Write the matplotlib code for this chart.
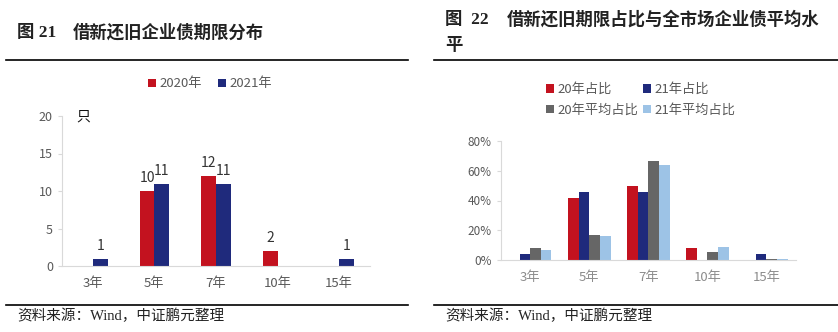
import matplotlib
matplotlib.use("Agg")
import matplotlib.pyplot as plt
import numpy as np
from matplotlib.lines import Line2D

plt.rcParams['font.family'] = ['Noto Sans CJK SC', 'DejaVu Sans']
SERIF = ['Liberation Serif', 'Noto Sans CJK SC']

categories = ["3年", "5年", "7年", "10年", "15年"]
count_2020 = [0, 10, 12, 2, 0]
count_2021 = [1, 11, 11, 0, 1]

share_20 = [0.0, 41.7, 50.0, 8.3, 0.0]
share_21 = [4.2, 45.8, 45.8, 0.0, 4.2]
avg_20 = [7.8, 16.8, 66.3, 5.6, 0.7]
avg_21 = [6.5, 16.4, 63.6, 8.5, 0.5]

RED = "#C3121F"
NAVY = "#1F2A7C"
GRAY = "#666666"
LBLUE = "#9DC3E6"
TICK = "#595959"
AXC = "#D9D9D9"

W, H = 838, 332
fig = plt.figure(figsize=(W / 100, H / 100), dpi=100)

def fx(px):
    return px / W

def fy(py):
    return 1 - py / H

def hline(x0, x1, y):
    fig.add_artist(Line2D([fx(x0), fx(x1)], [fy(y), fy(y)], color="black", lw=1.2))

TS = 12.5
# Titles
fig.text(fx(17), fy(33), "图 21", fontsize=TS, fontweight="bold", va="center", ha="left", color="#222222", family=SERIF)
fig.text(fx(73), fy(33), "借新还旧企业债期限分布", fontsize=TS, fontweight="bold", va="center", ha="left", color="#222222")
fig.text(fx(445), fy(20), "图  22", fontsize=TS, fontweight="bold", va="center", ha="left", color="#222222", family=SERIF)
fig.text(fx(507), fy(20), "借新还旧期限占比与全市场企业债平均水", fontsize=TS, fontweight="bold", va="center", ha="left", color="#222222")
fig.text(fx(445), fy(45), "平", fontsize=TS, fontweight="bold", va="center", ha="left", color="#222222")

hline(6, 408, 60)
hline(434, 838, 60)
hline(6, 408, 305)
hline(434, 838, 305)

fig.text(fx(17), fy(316), "资料来源：Wind，中证鹏元整理", fontsize=10.5, va="center", ha="left", color="#222222", family=SERIF)
fig.text(fx(445), fy(316), "资料来源：Wind，中证鹏元整理", fontsize=10.5, va="center", ha="left", color="#222222", family=SERIF)

def style_axes(ax, labelcolor):
    for s in ["top", "right"]:
        ax.spines[s].set_visible(False)
    ax.spines["left"].set_color(AXC)
    ax.spines["bottom"].set_color(AXC)
    ax.tick_params(axis="y", colors=AXC, labelcolor=TICK, length=3, labelsize=9)
    ax.tick_params(axis="x", length=0, labelcolor=labelcolor, labelsize=9.5, pad=8)

# Left chart
ax1 = fig.add_axes([fx(62), fy(266), fx(370) - fx(62), fy(116) - fy(266)])
x = np.arange(len(categories))
bw = 0.24
b1 = ax1.bar(x - bw / 2, count_2020, bw, color=RED, label="2020年")
b2 = ax1.bar(x + bw / 2, count_2021, bw, color=NAVY, label="2021年")
ax1.set_xlim(-0.5, len(categories) - 0.5)
ax1.set_ylim(0, 20)
ax1.set_yticks([0, 5, 10, 15, 20])
ax1.set_xticks(x)
ax1.set_xticklabels(categories)
style_axes(ax1, TICK)
for bars, vals in ((b1, count_2020), (b2, count_2021)):
    for r, v in zip(bars, vals):
        if v:
            ax1.annotate(str(v), (r.get_x() + r.get_width() / 2, v), xytext=(0, 4),
                         textcoords="offset points", ha="center", va="bottom",
                         fontsize=10, color="#333333")
fig.text(fx(83), fy(117), "只", fontsize=10, ha="center", va="center", color="#111111")
fig.legend(handles=[b1, b2], loc="center", bbox_to_anchor=(fx(210), fy(84)), ncol=2,
           frameon=False, fontsize=9.5, handlelength=0.6, handleheight=0.6,
           handletextpad=0.3, columnspacing=1.2, labelcolor=TICK)

# Right chart
ax2 = fig.add_axes([fx(500.7), fy(260), fx(796) - fx(500.7), fy(141) - fy(260)])
bw2 = 0.18
offs = [-1.5, -0.5, 0.5, 1.5]
series = [(share_20, RED, "20年占比"), (share_21, NAVY, "21年占比"),
          (avg_20, GRAY, "20年平均占比"), (avg_21, LBLUE, "21年平均占比")]
handles = []
for (vals, c, lab), o in zip(series, offs):
    h = ax2.bar(x + o * bw2, vals, bw2, color=c, label=lab)
    handles.append(h)
ax2.set_xlim(-0.5, len(categories) - 0.5)
ax2.set_ylim(0, 80)
ax2.set_yticks([0, 20, 40, 60, 80])
ax2.set_yticklabels(["0%", "20%", "40%", "60%", "80%"])
ax2.set_xticks(x)
ax2.set_xticklabels(categories)
style_axes(ax2, "#8C8C8C")
ax2.tick_params(axis="y", labelsize=8.5)
fig.legend(handles=[handles[0], handles[2], handles[1], handles[3]],
           loc="center left", bbox_to_anchor=(fx(534), fy(100)), ncol=2,
           frameon=False, fontsize=9.5, handlelength=0.6, handleheight=0.6,
           handletextpad=0.3, columnspacing=0.3, labelspacing=0.6, labelcolor=TICK)

fig.savefig("out.png", dpi=100)
